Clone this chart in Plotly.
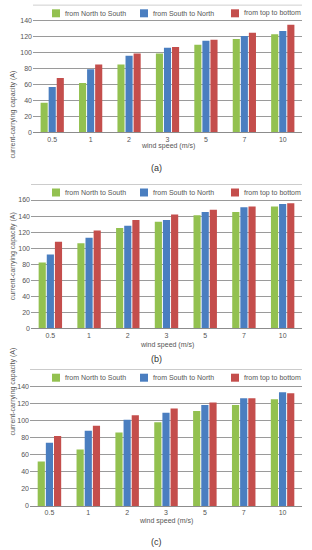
import plotly.graph_objects as go

wind_speed = ["0.5", "1", "2", "3", "5", "7", "10"]
series_names = ["from North to South", "from South to North", "from top to bottom"]
colors = ["#93C150", "#4A7EC0", "#C44E4C"]

# panel (a)
a_ns = [37, 62, 85, 99, 110, 117, 123]
a_sn = [57, 79, 96, 106, 115, 121, 127]
a_tb = [68, 85, 99, 107, 116, 125, 135]
# panel (b)
b_ns = [82, 106, 125, 133, 141, 145, 152]
b_sn = [92, 113, 128, 135, 145, 151, 155]
b_tb = [108, 122, 135, 142, 148, 152, 156]
# panel (c)
c_ns = [52, 66, 86, 98, 111, 118, 125]
c_sn = [74, 88, 101, 109, 118, 126, 133]
c_tb = [82, 94, 106, 114, 121, 126, 132]

panel_labels = ["(a)", "(b)", "(c)"]
y_ticks_a = [0, 20, 40, 60, 80, 100, 120, 140, 160]
y_ticks_b = [0, 20, 40, 60, 80, 100, 120, 140, 160, 180]
y_ticks_c = [0, 20, 40, 60, 80, 100, 120, 140, 160]

W, H = 312, 550
FONT = "Liberation Sans, Arial, sans-serif"
TXT = "#555555"
GRID = "#9a9a9a"

panels = [
    dict(data=[a_ns, a_sn, a_tb], ticks=y_ticks_a, x0=33, top=4.8, bot=132.3,
         xt=146, lab=168),
    dict(data=[b_ns, b_sn, b_tb], ticks=y_ticks_b, x0=31, top=184, bot=328.3,
         xt=345, lab=359),
    dict(data=[c_ns, c_sn, c_tb], ticks=y_ticks_c, x0=30, top=369.2, bot=506,
         xt=521, lab=542),
]
legend_box_x = [52, 140, 231]

def py(px):
    return 1 - px / H

fig = go.Figure()
layout = dict(
    width=W, height=H,
    margin=dict(l=0, r=0, t=0, b=0, autoexpand=False),
    paper_bgcolor="white", plot_bgcolor="white",
    barmode="group", bargap=0.37, bargroupgap=0.12,
    font=dict(family=FONT, size=7, color=TXT),
    showlegend=False, hovermode=False,
    annotations=[], shapes=[],
)

for i, p in enumerate(panels):
    n = "" if i == 0 else str(i + 1)
    xa, ya = "x" + n, "y" + n
    for k in range(3):
        fig.add_trace(go.Bar(
            x=wind_speed, y=p["data"][k], name=series_names[k],
            marker=dict(color=colors[k], line=dict(width=0)),
            xaxis=xa, yaxis=ya,
        ))
    x0 = p["x0"] / W
    x1 = 302 / W
    ticks = p["ticks"]
    layout["xaxis" + n] = dict(
        domain=[x0, x1], anchor=ya, type="category",
        showgrid=False, showline=True, linecolor="#8c8c8c", linewidth=1,
        ticks="", tickfont=dict(size=7, color=TXT), fixedrange=True,
    )
    layout["yaxis" + n] = dict(
        domain=[py(p["bot"]), py(p["top"])], anchor=xa,
        range=[0, ticks[-1]], tickvals=ticks[:-1],
        ticktext=[str(t) for t in ticks[:-1]],
        showgrid=True, gridcolor=GRID, gridwidth=1,
        zeroline=False, showline=False, ticks="",
        tickfont=dict(size=7, color=TXT), fixedrange=True,
    )
    # top gridline at the axis maximum
    layout["shapes"].append(dict(
        type="line", xref=xa + " domain", yref=ya,
        x0=0, x1=1, y0=ticks[-1], y1=ticks[-1],
        line=dict(color=GRID, width=1),
    ))
    # legend row (between top gridline and next gridline)
    ly = p["top"] + 8.5
    for k in range(3):
        bx = legend_box_x[k]
        layout["shapes"].append(dict(
            type="rect", xref="paper", yref="paper",
            x0=bx / W, x1=(bx + 8) / W, y0=py(ly + 4), y1=py(ly - 4),
            fillcolor=colors[k], line=dict(width=0),
        ))
        layout["annotations"].append(dict(
            text=series_names[k], x=(bx + 11) / W, y=py(ly),
            xref="paper", yref="paper", xanchor="left", yanchor="middle",
            showarrow=False, font=dict(size=7, color=TXT),
        ))
    layout["annotations"] += [
        dict(text="wind speed (m/s)", x=(p["x0"] + 302) / 2 / W, y=py(p["xt"]),
             xref="paper", yref="paper", showarrow=False, yanchor="middle",
             font=dict(size=7, color=TXT)),
        dict(text="current-carrying capacity (A)", x=7 / W,
             y=py((p["top"] + p["bot"]) / 2), xref="paper", yref="paper",
             textangle=-90, showarrow=False, font=dict(size=7, color=TXT)),
        dict(text=panel_labels[i], x=156 / W, y=py(p["lab"]), yanchor="middle",
             xref="paper", yref="paper", showarrow=False,
             font=dict(size=9, color="#333333")),
    ]

fig.update_layout(**layout)
fig.write_html("out.html", config={"displayModeBar": False},
               post_script="document.body.style.margin='0';document.body.style.overflow='hidden';")
